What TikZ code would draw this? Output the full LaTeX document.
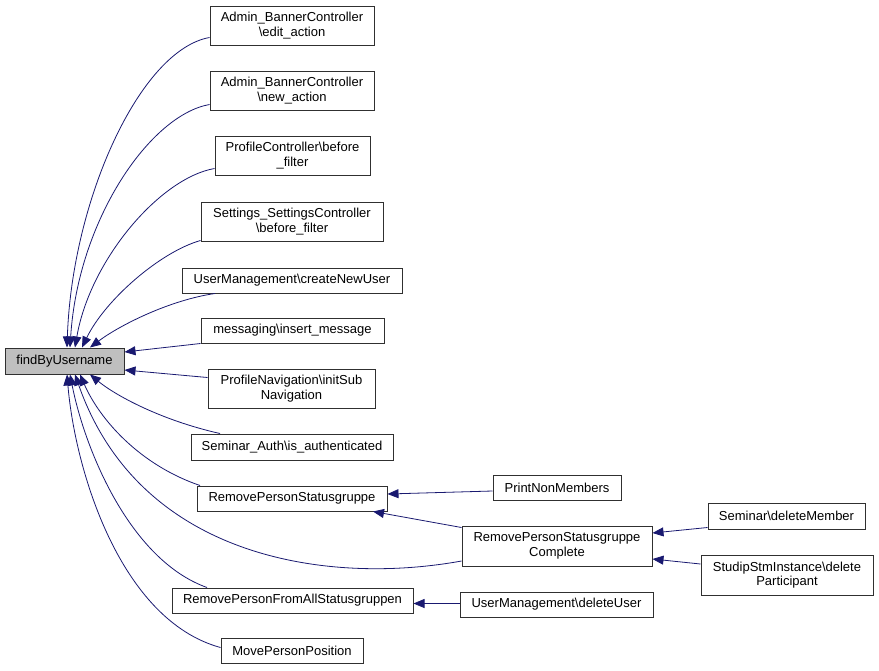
\documentclass[tikz,border=0pt]{standalone}
\usepackage{fontspec}
\setmainfont{Liberation Sans}
\usetikzlibrary{arrows.meta}
\definecolor{edgecol}{HTML}{191970}
\definecolor{boxcol}{HTML}{303030}
\definecolor{fbufill}{HTML}{BFBFBF}
\begin{document}
\begin{tikzpicture}[x=1pt,y=-1pt,
  box/.style={draw=boxcol, line width=1pt, fill=white, inner sep=0pt, align=center,
    font=\fontsize{13}{14.5}\selectfont},
  edge/.style={draw=edgecol, line width=0.8pt, -{Triangle[length=11pt,width=9pt]}}]
\useasboundingbox (0,0) rectangle (879,670);
\node[box, fill=fbufill, minimum width=119pt, minimum height=26pt] (fbu) at (64.5,361) {findByUsername};
\node[box, minimum width=164pt, minimum height=39pt] (edit) at (292,25.5) {Admin\_BannerController\\\textbackslash edit\_action};
\node[box, minimum width=164pt, minimum height=39pt] (new) at (292,90.5) {Admin\_BannerController\\\textbackslash new\_action};
\node[box, minimum width=155pt, minimum height=39pt] (pcbf) at (292.5,155.5) {ProfileController\textbackslash before\\\_filter};
\node[box, minimum width=182pt, minimum height=39pt] (ssc) at (292,221.5) {Settings\_SettingsController\\\textbackslash before\_filter};
\node[box, minimum width=220pt, minimum height=25pt] (cnu) at (292,280.5) {UserManagement\textbackslash createNewUser};
\node[box, minimum width=183pt, minimum height=25pt] (msg) at (292.5,330.5) {messaging\textbackslash insert\_message};
\node[box, minimum width=167pt, minimum height=39pt] (pn) at (291.5,388.5) {ProfileNavigation\textbackslash initSub\\Navigation};
\node[box, minimum width=202pt, minimum height=26pt] (sa) at (292,447) {Seminar\_Auth\textbackslash is\_authenticated};
\node[box, minimum width=190pt, minimum height=25pt] (rps) at (292,498.5) {RemovePersonStatusgruppe};
\node[box, minimum width=128pt, minimum height=25pt] (pnm) at (557,487.5) {PrintNonMembers};
\node[box, minimum width=190pt, minimum height=40pt] (rpsc) at (557,546) {RemovePersonStatusgruppe\\Complete};
\node[box, minimum width=157pt, minimum height=26pt] (sdm) at (786.5,516) {Seminar\textbackslash deleteMember};
\node[box, minimum width=172pt, minimum height=40pt] (ssi) at (787,575) {StudipStmInstance\textbackslash delete\\Participant};
\node[box, minimum width=241pt, minimum height=25pt] (rpfa) at (292.5,600.5) {RemovePersonFromAllStatusgruppen};
\node[box, minimum width=193pt, minimum height=25pt] (du) at (556.5,604.5) {UserManagement\textbackslash deleteUser};
\node[box, minimum width=142pt, minimum height=25pt] (mpp) at (292,650.5) {MovePersonPosition};

\draw[edge] ([yshift=8pt]edit.south west) .. controls (140,50) and (72,200) .. ([xshift=2.5pt]fbu.north);
\draw[edge] ([yshift=6pt]new.south west) .. controls (150,115) and (78,220) .. ([xshift=5.5pt]fbu.north);
\draw[edge] ([yshift=7pt]pcbf.south west) .. controls (160,178) and (90,260) .. ([xshift=10.5pt]fbu.north);
\draw[edge] ([yshift=1pt]ssc.south west) .. controls (160,252) and (105,300) .. ([xshift=17.5pt]fbu.north);
\draw[edge] ([xshift=-77pt]cnu.south) .. controls (170,300) and (120,325) .. ([xshift=25.5pt]fbu.north);
\draw[edge] (msg.south west) -- ([yshift=9pt]fbu.east);
\draw[edge] ([yshift=-9pt]pn.north west) -- ([yshift=-9pt]fbu.east);
\draw[edge] ([xshift=-72pt]sa.north) .. controls (160,420) and (115,395) .. ([xshift=25.5pt]fbu.south);
\draw[edge] ([xshift=-92pt]rps.north) .. controls (140,465) and (100,420) .. ([xshift=15.5pt]fbu.south);
\draw[edge] ([yshift=-15pt]rpsc.west) .. controls (330,585) and (140,560) .. ([xshift=10.5pt]fbu.south);
\draw[edge] ([xshift=-85.5pt]rpfa.north) .. controls (130,560) and (85,450) .. ([xshift=5.5pt]fbu.south);
\draw[edge] ([yshift=3pt]mpp.west) .. controls (120,620) and (75,470) .. ([xshift=2.5pt]fbu.south);

\draw[edge] ([yshift=-3.5pt]pnm.west) -- ([yshift=4.5pt]rps.east);
\draw[edge] ([yshift=-2pt]rpsc.north west) -- ([xshift=81pt]rps.south);
\draw[edge] ([yshift=2pt]sdm.south west) -- ([yshift=13pt]rpsc.east);
\draw[edge] ([yshift=11pt]ssi.west) -- ([yshift=-13pt]rpsc.east);
\draw[edge] ([yshift=1pt]du.west) -- ([yshift=-3pt]rpfa.east);
\end{tikzpicture}
\end{document}
